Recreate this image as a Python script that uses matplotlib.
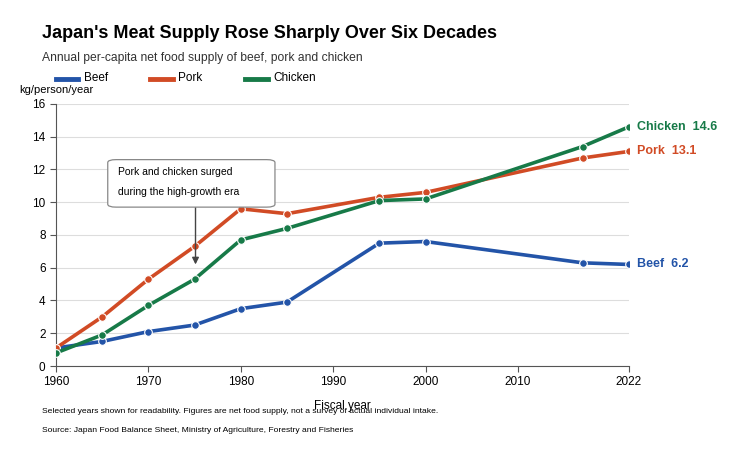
import matplotlib.pyplot as plt
from matplotlib.lines import Line2D
from matplotlib.patches import FancyBboxPatch

years = [1960, 1965, 1970, 1975, 1980, 1985, 1995, 2000, 2017, 2022]
beef = [1.1, 1.5, 2.1, 2.5, 3.5, 3.9, 7.5, 7.6, 6.3, 6.2]
pork = [1.1, 3.0, 5.3, 7.3, 9.6, 9.3, 10.3, 10.6, 12.7, 13.1]
chicken = [0.8, 1.9, 3.7, 5.3, 7.7, 8.4, 10.1, 10.2, 13.4, 14.6]
series = [("Beef", beef, "#2354a8"), ("Pork", pork, "#d14b25"), ("Chicken", chicken, "#177a48")]
xticks = [1960, 1970, 1980, 1990, 2000, 2010, 2022]

plt.rcParams['font.family'] = ['Liberation Sans', 'DejaVu Sans']
fig = plt.figure(figsize=(7.4, 4.63), dpi=100)
ax = fig.add_axes([0.0757, 0.2095, 0.774, 0.566])

for name, vals, col in series:
    ax.plot(years, vals, color=col, lw=2.6, marker='o', ms=5.5,
            markeredgecolor='white', markeredgewidth=0.8, zorder=3)
    ax.text(2022 + 0.9, vals[-1], f"{name}  {vals[-1]}", color=col,
            fontsize=9, fontweight='bold', va='center')

ax.set_xlim(1960, 2022)
ax.set_ylim(0, 16)
ax.set_xticks(xticks)
ax.set_yticks(range(0, 17, 2))
ax.tick_params(labelsize=8.5, color='#555555', length=4)
ax.grid(axis='y', color='#dddddd', lw=0.8)
ax.set_axisbelow(True)
for s in ['top', 'right']:
    ax.spines[s].set_visible(False)
for s in ['left', 'bottom']:
    ax.spines[s].set_color('#555555')
ax.set_xlabel("Fiscal year", fontsize=8.5, labelpad=8)

fig.text(0.0757, 0.80, "kg/person/year", fontsize=8, ha='center')
fig.text(0.057, 0.928, "Japan's Meat Supply Rose Sharply Over Six Decades",
         fontsize=13, fontweight='bold', va='center')
fig.text(0.057, 0.875, "Annual per-capita net food supply of beef, pork and chicken",
         fontsize=8.7, color='#333333', va='center')

lx = [0.075, 0.203, 0.331]
for x0, (name, vals, col) in zip(lx, series):
    fig.add_artist(Line2D([x0, x0 + 0.031], [0.829, 0.829], color=col, lw=3.5))
    fig.text(x0 + 0.038, 0.831, name, fontsize=8.5, va='center')

# annotation box + arrow
ax.add_patch(FancyBboxPatch((1965.6, 9.7), 18.1, 2.9,
                            boxstyle='round,pad=0,rounding_size=0.9',
                            fc='white', ec='#888888', lw=0.9, zorder=4,
                            mutation_aspect=0.2))
ax.text(1966.7, 11.85, "Pork and chicken surged", fontsize=7.5, va='center', zorder=5)
ax.text(1966.7, 10.6, "during the high-growth era", fontsize=7.5, va='center', zorder=5)
ax.annotate("", xy=(1975.1, 6.2), xytext=(1975.1, 9.7),
            arrowprops=dict(arrowstyle='-|>', color='#444444', lw=1,
                            shrinkA=0, shrinkB=0))

fig.text(0.057, 0.108, "Selected years shown for readability. Figures are net food supply, not a survey of actual individual intake.",
         fontsize=6.1)
fig.text(0.057, 0.068, "Source: Japan Food Balance Sheet, Ministry of Agriculture, Forestry and Fisheries",
         fontsize=6.1)

fig.savefig("out.png", dpi=100)
